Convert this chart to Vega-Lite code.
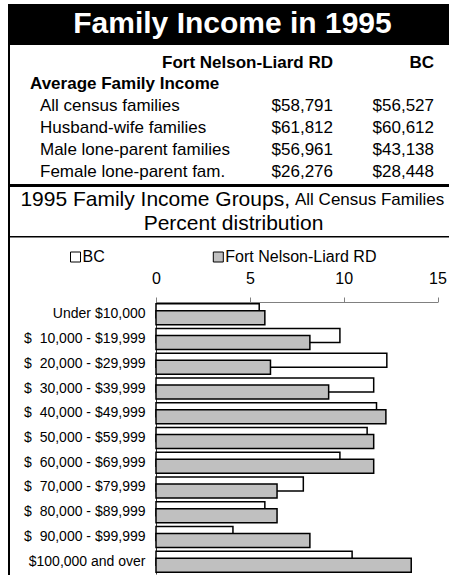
{
  "$schema": "https://vega.github.io/schema/vega-lite/v6.json",
  "padding": {"left": 8, "top": 4, "right": 0, "bottom": 0},
  "background": "white",
  "spacing": 0,
  "resolve": {"scale": {"fill": "independent"}, "legend": {"fill": "independent"}},
  "config": {
    "font": "Liberation Sans",
    "view": {"stroke": null},
    "axis": {"labelFont": "Liberation Sans"},
    "legend": {"labelFont": "Liberation Sans"}
  },
  "datasets": {
    "blank": [],
    "tablehead": [
      {"row": "head", "col": "fn", "text": "Fort Nelson-Liard RD"},
      {"row": "head", "col": "bc", "text": "BC"},
      {"row": "section", "col": "label", "text": "Average Family Income"}
    ],
    "income": [
      {"item": "All census families", "fn": 58791, "bc": 56527},
      {"item": "Husband-wife families", "fn": 61812, "bc": 60612},
      {"item": "Male lone-parent families", "fn": 56961, "bc": 43138},
      {"item": "Female lone-parent fam.", "fn": 26276, "bc": 28448}
    ],
    "subtitle": [
      {"part": "main", "text": "1995 Family Income Groups,"},
      {"part": "aside", "text": "All Census Families"},
      {"part": "sub", "text": "Percent distribution"}
    ],
    "groups": [
      {"group": "Under $10,000", "bc": 5.5, "fn": 5.8},
      {"group": "$\u00a0\u00a010,000 - $19,999", "bc": 9.8, "fn": 8.2},
      {"group": "$\u00a0\u00a020,000 - $29,999", "bc": 12.3, "fn": 6.1},
      {"group": "$\u00a0\u00a030,000 - $39,999", "bc": 11.6, "fn": 9.2},
      {"group": "$\u00a0\u00a040,000 - $49,999", "bc": 11.75, "fn": 12.25},
      {"group": "$\u00a0\u00a050,000 - $59,999", "bc": 11.25, "fn": 11.6},
      {"group": "$\u00a0\u00a060,000 - $69,999", "bc": 9.8, "fn": 11.6},
      {"group": "$\u00a0\u00a070,000 - $79,999", "bc": 7.85, "fn": 6.45},
      {"group": "$\u00a0\u00a080,000 - $89,999", "bc": 5.8, "fn": 6.45},
      {"group": "$\u00a0\u00a090,000 - $99,999", "bc": 4.1, "fn": 8.2},
      {"group": "$100,000 and over", "bc": 10.45, "fn": 13.6}
    ]
  },
  "hconcat": [
    {
      "width": 2,
      "height": 600,
      "view": {"fill": "black"},
      "data": {"name": "blank"},
      "mark": {"type": "text"},
      "encoding": {"text": {"field": "t"}}
    },
    {
      "spacing": 0,
      "resolve": {"scale": {"fill": "independent"}, "legend": {"fill": "independent"}},
      "vconcat": [
        {
          "width": 445,
          "height": 41,
          "view": {"fill": "black"},
          "data": {"values": [{"title": "Family Income in 1995"}]},
          "mark": {"type": "text", "fontSize": 30, "fontWeight": "bold", "color": "white", "align": "center", "baseline": "middle", "dy": -1},
          "encoding": {"text": {"field": "title"}}
        },
        {
          "spacing": 0,
          "bounds": "flush",
          "hconcat": [
            {
              "width": 20, "height": 138.5,
              "data": {"name": "blank"},
              "mark": {"type": "text"},
              "encoding": {"text": {"field": "t"}}
            },
            {
              "width": 10, "height": 138.5,
              "layer": [
                {
                  "data": {"name": "tablehead"},
                  "transform": [{"filter": "datum.col === 'label'"}],
                  "mark": {"type": "text", "fontSize": 17, "fontWeight": "bold", "align": "left", "baseline": "middle", "color": "black"},
                  "encoding": {
                    "x": {"datum": "section", "type": "nominal", "axis": null, "scale": {"type": "point", "domain": ["section", "item"], "padding": 0}},
                    "y": {"field": "row", "type": "nominal", "axis": null, "scale": {"type": "point", "domain": ["head", "section", "All census families", "Husband-wife families", "Male lone-parent families", "Female lone-parent fam."], "padding": 0.6636, "align": 0.605}},
                    "text": {"field": "text"}
                  }
                },
                {
                  "data": {"name": "income"},
                  "mark": {"type": "text", "fontSize": 17, "align": "left", "baseline": "middle", "color": "black"},
                  "encoding": {
                    "x": {"datum": "item", "type": "nominal", "axis": null},
                    "y": {"field": "item", "type": "nominal", "axis": null},
                    "text": {"field": "item"}
                  }
                }
              ]
            },
            {
              "width": 293, "height": 138.5,
              "layer": [
                {
                  "data": {"name": "tablehead"},
                  "transform": [{"filter": "datum.col === 'fn'"}],
                  "mark": {"type": "text", "fontSize": 17, "fontWeight": "bold", "align": "right", "baseline": "middle", "color": "black"},
                  "encoding": {
                    "x": {"datum": "fn", "type": "nominal", "axis": null, "scale": {"type": "point", "domain": ["fn"], "padding": 0, "align": 1}},
                    "y": {"field": "row", "type": "nominal", "axis": null, "scale": {"type": "point", "domain": ["head", "section", "All census families", "Husband-wife families", "Male lone-parent families", "Female lone-parent fam."], "padding": 0.6636, "align": 0.605}},
                    "text": {"field": "text"}
                  }
                },
                {
                  "data": {"name": "income"},
                  "mark": {"type": "text", "fontSize": 17, "align": "right", "baseline": "middle", "color": "black"},
                  "encoding": {
                    "x": {"datum": "fn", "type": "nominal", "axis": null},
                    "y": {"field": "item", "type": "nominal", "axis": null},
                    "text": {"field": "fn", "type": "quantitative", "format": "$,.0f"}
                  }
                }
              ]
            },
            {
              "width": 101, "height": 138.5,
              "layer": [
                {
                  "data": {"name": "tablehead"},
                  "transform": [{"filter": "datum.col === 'bc'"}],
                  "mark": {"type": "text", "fontSize": 17, "fontWeight": "bold", "align": "right", "baseline": "middle", "color": "black"},
                  "encoding": {
                    "x": {"datum": "bc", "type": "nominal", "axis": null, "scale": {"type": "point", "domain": ["bc"], "padding": 0, "align": 1}},
                    "y": {"field": "row", "type": "nominal", "axis": null, "scale": {"type": "point", "domain": ["head", "section", "All census families", "Husband-wife families", "Male lone-parent families", "Female lone-parent fam."], "padding": 0.6636, "align": 0.605}},
                    "text": {"field": "text"}
                  }
                },
                {
                  "data": {"name": "income"},
                  "mark": {"type": "text", "fontSize": 17, "align": "right", "baseline": "middle", "color": "black"},
                  "encoding": {
                    "x": {"datum": "bc", "type": "nominal", "axis": null},
                    "y": {"field": "item", "type": "nominal", "axis": null},
                    "text": {"field": "bc", "type": "quantitative", "format": "$,.0f"}
                  }
                }
              ]
            }
          ]
        },
        {
          "width": 445, "height": 3,
          "view": {"fill": "black"},
          "data": {"name": "blank"},
          "mark": {"type": "text"},
          "encoding": {"text": {"field": "t"}}
        },
        {
          "spacing": 0,
          "bounds": "flush",
          "hconcat": [
            {
              "width": 280, "height": 25.5,
              "data": {"name": "subtitle"},
              "transform": [{"filter": "datum.part === 'main'"}],
              "mark": {"type": "text", "fontSize": 21, "align": "right", "baseline": "middle", "color": "black"},
              "encoding": {
                "x": {"datum": "main", "type": "nominal", "axis": null, "scale": {"type": "point", "domain": ["main"], "padding": 0, "align": 1}},
                "text": {"field": "text"}
              }
            },
            {
              "width": 4.3, "height": 25.5,
              "data": {"name": "blank"},
              "mark": {"type": "text"},
              "encoding": {"text": {"field": "t"}}
            },
            {
              "width": 160, "height": 25.5,
              "data": {"name": "subtitle"},
              "transform": [{"filter": "datum.part === 'aside'"}],
              "mark": {"type": "text", "fontSize": 17, "align": "left", "baseline": "middle", "color": "black", "dy": 0.5},
              "encoding": {
                "x": {"datum": "aside", "type": "nominal", "axis": null, "scale": {"type": "point", "domain": ["aside"], "padding": 0, "align": 0}},
                "text": {"field": "text"}
              }
            }
          ]
        },
        {
          "width": 447, "height": 22.5,
          "data": {"name": "subtitle"},
          "transform": [{"filter": "datum.part === 'sub'"}],
          "mark": {"type": "text", "fontSize": 21, "align": "center", "baseline": "middle", "color": "black"},
          "encoding": {"text": {"field": "text"}}
        },
        {
          "width": 445, "height": 1.5,
          "view": {"fill": "black"},
          "data": {"name": "blank"},
          "mark": {"type": "text"},
          "encoding": {"text": {"field": "t"}}
        },
        {
          "spacing": 0,
          "bounds": "flush",
          "resolve": {"scale": {"fill": "independent"}, "legend": {"fill": "independent"}},
          "hconcat": [
            {
              "width": 135.5, "height": 272,
              "data": {"name": "groups"},
              "mark": {"type": "text", "fontSize": 14, "align": "right", "baseline": "middle", "color": "black"},
              "encoding": {
                "x": {"datum": "label", "type": "nominal", "axis": null, "scale": {"type": "point", "domain": ["label"], "padding": 0, "align": 1}},
                "y": {"field": "group", "type": "nominal", "sort": null, "axis": null, "scale": {"paddingInner": 0.15, "paddingOuter": 0.075}},
                "text": {"field": "group"}
              }
            },
            {
              "width": 10, "height": 272,
              "data": {"name": "blank"},
              "mark": {"type": "text"},
              "encoding": {"text": {"field": "t"}}
            },
            {
              "width": 281.5,
              "height": 272,
              "data": {"name": "groups"},
              "encoding": {
                "y": {
                  "field": "group", "type": "nominal", "sort": null,
                  "scale": {"paddingInner": 0.15, "paddingOuter": 0.075},
                  "axis": {"title": null, "ticks": false, "labels": false, "domain": true, "domainColor": "#333333"}
                }
              },
              "layer": [
                {
                  "mark": {"type": "bar", "height": 14, "yOffset": -3.5, "stroke": "black", "strokeWidth": 1.5},
                  "encoding": {
                    "x": {
                      "field": "bc", "type": "quantitative",
                      "scale": {"domain": [0, 15], "nice": false},
                      "axis": {"orient": "top", "values": [0, 5, 10, 15], "title": null, "grid": false, "domainColor": "#808080", "tickColor": "#808080", "tickSize": 5, "labelFontSize": 16, "labelColor": "black", "labelPadding": 11, "labelFlush": false}
                    },
                    "fill": {
                      "datum": "BC", "type": "nominal",
                      "scale": {"domain": ["BC", "Fort Nelson-Liard RD"], "range": ["white", "#c0c0c0"]},
                      "legend": {"orient": "none", "legendX": -99.5, "legendY": -64, "padding": 11, "direction": "horizontal", "title": null, "symbolType": "square", "symbolSize": 100, "symbolStrokeColor": "black", "symbolStrokeWidth": 1, "labelFontSize": 16, "labelColor": "black", "labelOffset": -1, "columnPadding": 104.8}
                    }
                  }
                },
                {
                  "mark": {"type": "bar", "height": 14, "yOffset": 3.5, "stroke": "black", "strokeWidth": 1.5},
                  "encoding": {
                    "x": {"field": "fn", "type": "quantitative"},
                    "fill": {"datum": "Fort Nelson-Liard RD", "type": "nominal"}
                  }
                }
              ]
            }
          ]
        }
      ]
    }
  ]
}
